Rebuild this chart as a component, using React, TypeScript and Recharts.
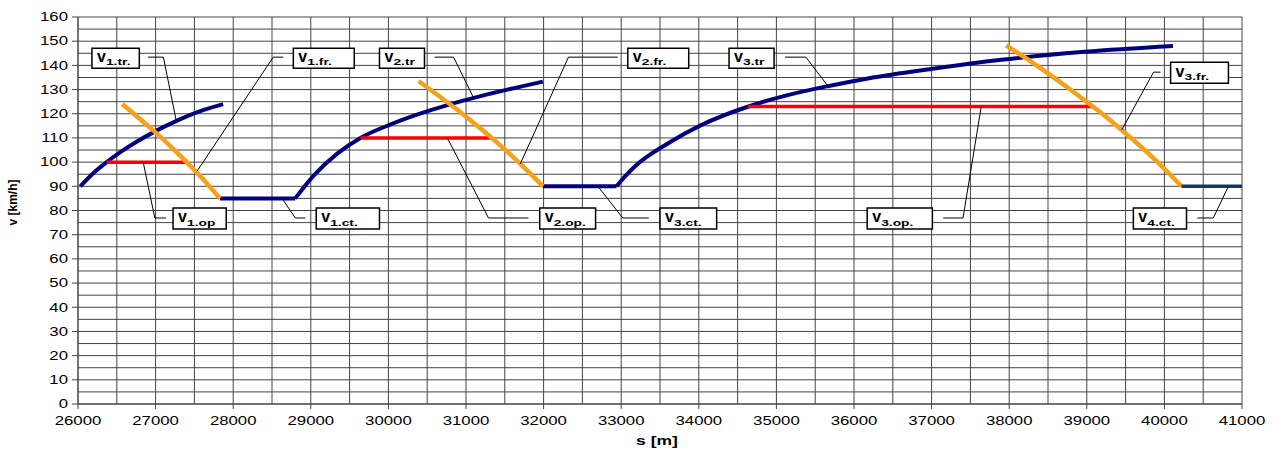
import React from 'react';
import {
  LineChart,
  Line,
  XAxis,
  YAxis,
  CartesianGrid,
  ReferenceArea,
  ReferenceLine,
  Label
} from 'recharts';

// travel curves, s [m] against v [km/h]
const v1Traction = [
  { s: 26030, v: 90 }, { s: 26200, v: 95.5 }, { s: 26370, v: 100 }, { s: 26550, v: 104.2 },
  { s: 26750, v: 108.3 }, { s: 26975, v: 112.4 }, { s: 27200, v: 116 }, { s: 27400, v: 118.9 },
  { s: 27630, v: 121.7 }, { s: 27870, v: 124 }
];
const v1Braking = [
  { s: 26570, v: 124 }, { s: 26800, v: 117.8 }, { s: 26970, v: 113.1 }, { s: 27200, v: 106.3 },
  { s: 27400, v: 100 }, { s: 27630, v: 92.3 }, { s: 27830, v: 85 }
];
const v1Operating = [{ s: 26370, v: 100 }, { s: 27400, v: 100 }];
const v1Coasting = [{ s: 27830, v: 85 }, { s: 28800, v: 85 }];

const v2Traction = [
  { s: 28800, v: 85 }, { s: 29040, v: 94.5 }, { s: 29340, v: 103.5 }, { s: 29640, v: 110 },
  { s: 30030, v: 115.6 }, { s: 30330, v: 119.2 }, { s: 30780, v: 123.8 }, { s: 31190, v: 127.3 },
  { s: 31620, v: 130.6 }, { s: 31990, v: 133.3 }
];
const v2Braking = [
  { s: 30390, v: 133.5 }, { s: 30600, v: 128.6 }, { s: 30800, v: 123.8 }, { s: 31000, v: 118.8 },
  { s: 31200, v: 113.6 }, { s: 31380, v: 108.7 }, { s: 31550, v: 103.8 }, { s: 31700, v: 99.3 },
  { s: 31850, v: 94.6 }, { s: 31990, v: 90 }
];
const v2Operating = [{ s: 29640, v: 110 }, { s: 31330, v: 110 }];
const v3Coasting = [{ s: 31990, v: 90 }, { s: 32940, v: 90 }];

const v3Traction = [
  { s: 32940, v: 90 }, { s: 33050, v: 94.1 }, { s: 33165, v: 97.9 }, { s: 33600, v: 107.7 },
  { s: 34030, v: 115.3 }, { s: 34630, v: 122.9 }, { s: 35145, v: 127.7 }, { s: 35660, v: 131.4 },
  { s: 36180, v: 134.6 }, { s: 37040, v: 138.7 }, { s: 37900, v: 142.3 }, { s: 38970, v: 145.6 },
  { s: 40110, v: 148 }
];
const v3Braking = [
  { s: 37960, v: 148.3 }, { s: 38180, v: 143.7 }, { s: 38500, v: 136.7 }, { s: 38800, v: 129.7 },
  { s: 39150, v: 121.2 }, { s: 39450, v: 113.3 }, { s: 39800, v: 103.4 }, { s: 40050, v: 95.6 },
  { s: 40220, v: 90 }
];
const v3Operating = [{ s: 34630, v: 123 }, { s: 39080, v: 123 }];
const v4Coasting = [{ s: 40220, v: 90 }, { s: 41000, v: 90 }];

// callout boxes: subscript text, box [s1, s2, v1, v2], leader points
const callouts = [
  { sub: '1.tr.', box: [26180, 26790, 138.8, 147.1], leader: [[26900, 143.4], [27100, 143.4], [27265, 117.3]] },
  { sub: '1.op', box: [27225, 27910, 72.3, 81], leader: [[26840, 100], [26990, 76.9], [27135, 76.9]] },
  { sub: '1.fr.', box: [28775, 29560, 138.8, 147.1], leader: [[27535, 96.3], [28516, 143.4], [28645, 143.4]] },
  { sub: '1.ct.', box: [29070, 29885, 72.3, 81], leader: [[28630, 85], [28800, 76.9], [28930, 76.9]] },
  { sub: '2.tr', box: [29885, 30465, 138.8, 147.1], leader: [[30595, 143.4], [30840, 143.4], [31100, 126.4]] },
  { sub: '2.op.', box: [31950, 32670, 72.3, 81], leader: [[30760, 110], [31290, 76.9], [31805, 76.9]] },
  { sub: '2.fr.', box: [33085, 33870, 138.8, 147.1], leader: [[31700, 99.3], [32320, 143.4], [32955, 143.4]] },
  { sub: '3.ct.', box: [33500, 34230, 72.3, 81], leader: [[32700, 90], [33020, 76.9], [33355, 76.9]] },
  { sub: '3.tr', box: [34390, 34970, 138.8, 147.1], leader: [[35110, 143.4], [35380, 143.4], [35665, 131.4]] },
  { sub: '3.op.', box: [36170, 37010, 72.3, 81], leader: [[37150, 76.9], [37405, 76.9], [37640, 123]] },
  { sub: '3.fr.', box: [40080, 40825, 132.6, 141.3], leader: [[39950, 137.2], [39860, 137.2], [39450, 113.3]] },
  { sub: '4.ct.', box: [39600, 40285, 72.3, 81], leader: [[40425, 76.9], [40630, 76.9], [40825, 90]] }
];

const xTicks = Array.from({ length: 31 }, (_, i) => 26000 + i * 500);
const yTicks = Array.from({ length: 33 }, (_, i) => i * 5);

const NAVY = '#000080';
const ORANGE = '#F7A11A';
const RED = '#FF0000';
const STEEL = '#17375E';
const GRID = '#444444';
const FONT = 'Arial, "Liberation Sans", sans-serif';
const STRETCH = 1.4;

const XTick = (props: any) => {
  const { x, y, payload } = props;
  if (payload.value % 1000 !== 0) return null;
  return (
    <g transform={`translate(${x},${y})`}>
      <line x1={0} y1={0} x2={0} y2={5} stroke={GRID} />
      <text x={0} y={21} textAnchor="middle" transform={`scale(${STRETCH},1)`}
        fontFamily={FONT} fontSize={12} fill="#000">
        {payload.value}
      </text>
    </g>
  );
};

const YTick = (props: any) => {
  const { x, y, payload } = props;
  if (payload.value % 10 !== 0) return null;
  return (
    <g transform={`translate(${x},${y})`}>
      <line x1={0} y1={0} x2={-6} y2={0} stroke={GRID} />
      <text x={-10 / STRETCH} y={4.3} textAnchor="end" transform={`scale(${STRETCH},1)`}
        fontFamily={FONT} fontSize={12} fill="#000">
        {payload.value}
      </text>
    </g>
  );
};

const BoxText = (props: any) => {
  const { viewBox, sub } = props;
  if (!viewBox) return null;
  const { x, y, height } = viewBox;
  const subX = (x + 14) / 1.45;
  return (
    <g fontFamily={FONT} fontWeight="bold" fill="#000">
      <text x={x + 5} y={y + height * 0.68} fontSize={16}>v</text>
      <text x={subX} y={y + height * 0.86} fontSize={9.5} transform="scale(1.45,1)">{sub}</text>
    </g>
  );
};

const XTitle = (props: any) => {
  const { viewBox } = props;
  const cx = viewBox.x + viewBox.width / 2 - 3;
  return (
    <text x={cx / STRETCH} y={viewBox.y + 41} textAnchor="middle" transform={`scale(${STRETCH},1)`}
      fontFamily={FONT} fontWeight="bold" fontSize={12.5} fill="#000">
      s [m]
    </text>
  );
};

const YTitle = (props: any) => {
  const { viewBox } = props;
  const cy = viewBox.y + viewBox.height / 2 - 8;
  return (
    <text x={17} y={cy} textAnchor="middle" transform={`rotate(-90, 17, ${cy})`}
      fontFamily={FONT} fontWeight="bold" fontSize={12} fill="#000">
      v [km/h]
    </text>
  );
};

export default function App() {
  return (
    <div style={{ position: 'absolute', left: 0, top: 0, background: '#fff' }}>
      <LineChart width={1275} height={449} margin={{ top: 17, right: 33, bottom: 5, left: 8 }}>
        <CartesianGrid stroke={GRID} strokeWidth={1} />
        <XAxis
          type="number"
          dataKey="s"
          domain={[26000, 41000]}
          ticks={xTicks}
          interval={0}
          height={40}
          tickSize={0}
          tickMargin={0}
          tickLine={false}
          tick={<XTick />}
          axisLine={{ stroke: GRID }}
          allowDuplicatedCategory={false}
        >
          <Label content={<XTitle />} />
        </XAxis>
        <YAxis
          type="number"
          dataKey="v"
          domain={[0, 160]}
          ticks={yTicks}
          interval={0}
          width={70}
          tickSize={0}
          tickMargin={0}
          tickLine={false}
          tick={<YTick />}
          axisLine={{ stroke: GRID }}
        >
          <Label content={<YTitle />} />
        </YAxis>

        <Line data={v1Traction} dataKey="v" type="monotone" stroke={NAVY} strokeWidth={4} dot={false} isAnimationActive={false} />
        <Line data={v1Coasting} dataKey="v" type="linear" stroke={NAVY} strokeWidth={4} dot={false} isAnimationActive={false} />
        <Line data={v2Traction} dataKey="v" type="monotone" stroke={NAVY} strokeWidth={4} dot={false} isAnimationActive={false} />
        <Line data={v3Coasting} dataKey="v" type="linear" stroke={NAVY} strokeWidth={4} dot={false} isAnimationActive={false} />
        <Line data={v3Traction} dataKey="v" type="monotone" stroke={NAVY} strokeWidth={4} dot={false} isAnimationActive={false} />

        <Line data={v1Operating} dataKey="v" type="linear" stroke={RED} strokeWidth={3.5} dot={false} isAnimationActive={false} />
        <Line data={v2Operating} dataKey="v" type="linear" stroke={RED} strokeWidth={3.5} dot={false} isAnimationActive={false} />
        <Line data={v3Operating} dataKey="v" type="linear" stroke={RED} strokeWidth={3.5} dot={false} isAnimationActive={false} />

        <Line data={v1Braking} dataKey="v" type="monotone" stroke={ORANGE} strokeWidth={4.5} dot={false} isAnimationActive={false} />
        <Line data={v2Braking} dataKey="v" type="monotone" stroke={ORANGE} strokeWidth={4.5} dot={false} isAnimationActive={false} />
        <Line data={v3Braking} dataKey="v" type="monotone" stroke={ORANGE} strokeWidth={4.5} dot={false} isAnimationActive={false} />

        <Line data={v4Coasting} dataKey="v" type="linear" stroke={STEEL} strokeWidth={3.5} dot={false} isAnimationActive={false} />

        {callouts.map((c) => [
          <ReferenceLine
            key={`${c.sub}-a`}
            segment={[{ x: c.leader[0][0], y: c.leader[0][1] }, { x: c.leader[1][0], y: c.leader[1][1] }]}
            stroke="#000"
            strokeWidth={1}
          />,
          <ReferenceLine
            key={`${c.sub}-b`}
            segment={[{ x: c.leader[1][0], y: c.leader[1][1] }, { x: c.leader[2][0], y: c.leader[2][1] }]}
            stroke="#000"
            strokeWidth={1}
          />,
          <ReferenceArea
            key={`${c.sub}-box`}
            x1={c.box[0]}
            x2={c.box[1]}
            y1={c.box[2]}
            y2={c.box[3]}
            fill="#fff"
            fillOpacity={1}
            stroke="#000"
            strokeWidth={1.5}
            label={<BoxText sub={c.sub} />}
          />
        ])}
      </LineChart>
    </div>
  );
}
